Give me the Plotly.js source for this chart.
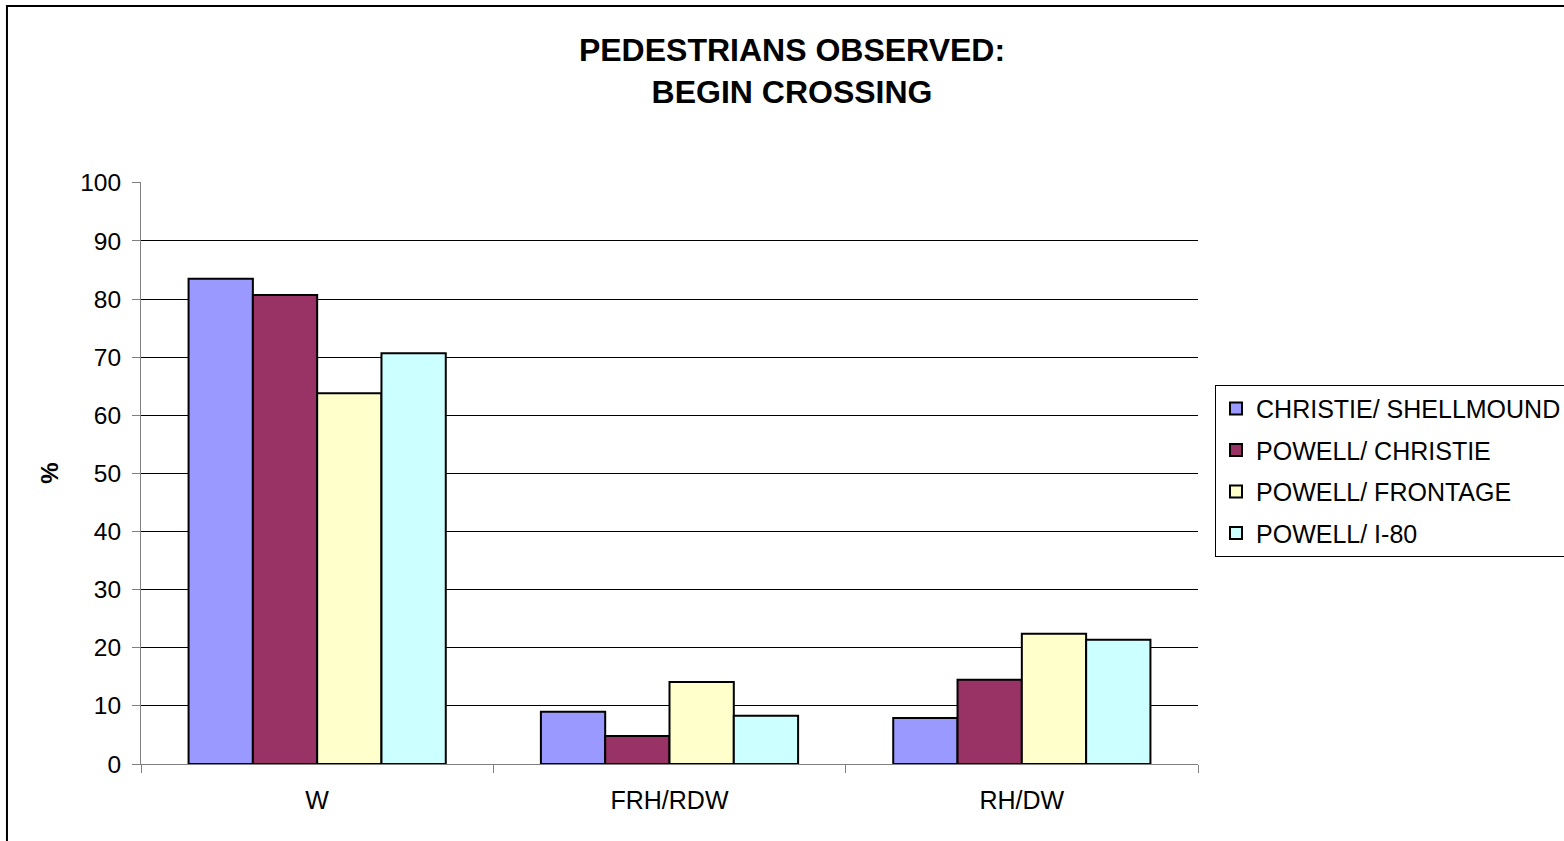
<!DOCTYPE html>
<html>
<head>
<meta charset="utf-8">
<script src="https://cdn.plot.ly/plotly-3.0.1.min.js"></script>
<style>html,body{margin:0;padding:0;background:#fff;}#chart{width:1564px;height:841px;}</style>
</head>
<body>
<div id="chart"></div>
<script>
const categories = ["W", "FRH/RDW", "RH/DW"];
const seriesNames = ["CHRISTIE/ SHELLMOUND", "POWELL/ CHRISTIE", "POWELL/ FRONTAGE", "POWELL/ I-80"];
const christieShellmound = [83.5, 9.0, 7.9];
const powellChristie = [80.7, 4.8, 14.5];
const powellFrontage = [63.8, 14.1, 22.4];
const powellI80 = [70.7, 8.3, 21.4];
const yTicks = [0, 10, 20, 30, 40, 50, 60, 70, 80, 90, 100];

const seriesValues = [christieShellmound, powellChristie, powellFrontage, powellI80];
const colors = ["#9999FF", "#993366", "#FFFFCC", "#CCFFFF"];

const traces = seriesValues.map((vals, i) => ({
  type: "bar",
  name: seriesNames[i],
  x: categories,
  y: vals,
  marker: {color: colors[i], line: {color: "#000000", width: 2}},
  legendgroup: "g" + i,
  hoverinfo: "x+y+name"
}));

const layout = {
  width: 1564, height: 841,
  paper_bgcolor: "#ffffff", plot_bgcolor: "#ffffff",
  margin: {l: 141, r: 366, t: 182, b: 77, pad: 0, autoexpand: false},
  font: {family: "Liberation Sans, Arial, sans-serif", color: "#000000", size: 24},
  title: {
    text: "<b>PEDESTRIANS OBSERVED:<br>BEGIN CROSSING</b>",
    font: {size: 32, family: "Liberation Sans, Arial, sans-serif", color: "#000"},
    x: 0.5064, xanchor: "center", xref: "container",
    y: 0.9275, yanchor: "middle", yref: "container"
  },
  bargap: 0.27, bargroupgap: 0,
  barmode: "group",
  xaxis: {
    type: "category",
    showline: true, linecolor: "#808080", linewidth: 1,
    ticks: "outside", tickson: "boundaries", ticklen: 8, tickcolor: "#808080",
    showgrid: false, zeroline: false,
    tickfont: {size: 25},
    ticklabelstandoff: 14
  },
  yaxis: {
    range: [0, 100.15], tickvals: yTicks, ticktext: yTicks.map(String),
    showline: true, linecolor: "#808080", linewidth: 1,
    ticks: "outside", ticklen: 8, tickcolor: "#808080",
    showgrid: true, gridcolor: "#000000", gridwidth: 1,
    zeroline: false,
    tickfont: {size: 24.5},
    ticklabelstandoff: 6,
    title: {text: "<b>%</b>", font: {size: 24}, standoff: 14}
  },
  legend: {
    x: 1.0161, xanchor: "left", xref: "paper",
    y: 0.6515, yanchor: "top", yref: "paper",
    bordercolor: "#000000", borderwidth: 1,
    bgcolor: "#ffffff",
    font: {size: 25},
    tracegroupgap: 6,
    traceorder: "grouped",
    itemsizing: "constant"
  },
  shapes: [{
    type: "rect", xref: "paper", yref: "paper",
    x0: -0.1268, x1: 1.5, y0: -0.2, y1: 1.3024,
    line: {color: "#000000", width: 2}, fillcolor: "rgba(0,0,0,0)", layer: "below"
  }]
};

Plotly.newPlot("chart", traces, layout, {displayModeBar: false, staticPlot: true});
</script>
</body>
</html>
